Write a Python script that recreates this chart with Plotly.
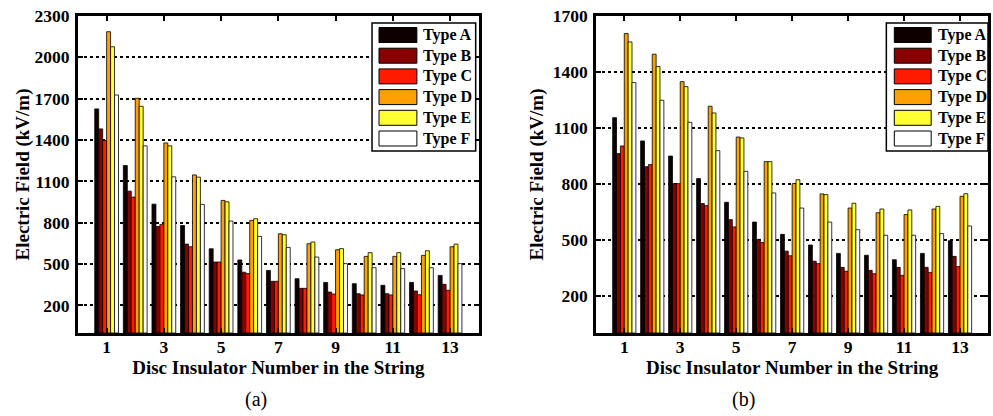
import plotly.graph_objects as go
from plotly.subplots import make_subplots

# ---------------- data ----------------
discs = list(range(1, 14))
series_names = ["Type A", "Type B", "Type C", "Type D", "Type E", "Type F"]
series_colors = ["#0f0000", "#880000", "#ff1a00", "#ffa000", "#ffff33", "#ffffff"]

# (a)
a_type_a = [1626, 1215, 935, 780, 611, 530, 454, 394, 367, 358, 346, 367, 418]
a_type_b = [1481, 1029, 773, 645, 515, 441, 375, 324, 297, 285, 285, 305, 353]
a_type_c = [1396, 986, 788, 626, 515, 431, 375, 324, 283, 276, 276, 278, 310]
a_type_d = [2186, 1703, 1379, 1147, 962, 817, 720, 648, 604, 556, 556, 563, 626]
a_type_e = [2077, 1645, 1358, 1131, 952, 829, 713, 660, 612, 583, 583, 597, 645]
a_type_f = [1727, 1358, 1133, 933, 812, 701, 621, 551, 503, 474, 467, 474, 503]

# (b)
b_type_a = [1155, 1030, 949, 828, 701, 595, 529, 472, 427, 417, 393, 427, 495]
b_type_b = [962, 892, 801, 694, 608, 502, 439, 385, 352, 336, 352, 352, 411]
b_type_c = [1003, 903, 801, 683, 569, 485, 414, 372, 331, 318, 309, 325, 356]
b_type_d = [1606, 1495, 1348, 1216, 1051, 919, 801, 746, 670, 645, 635, 665, 733]
b_type_e = [1561, 1429, 1321, 1180, 1046, 919, 822, 742, 696, 665, 660, 679, 747]
b_type_f = [1343, 1248, 1130, 978, 867, 751, 670, 595, 554, 524, 524, 533, 574]

a_series = [a_type_a, a_type_b, a_type_c, a_type_d, a_type_e, a_type_f]
b_series = [b_type_a, b_type_b, b_type_c, b_type_d, b_type_e, b_type_f]

x_ticks = [1, 3, 5, 7, 9, 11, 13]
a_yticks = [200, 500, 800, 1100, 1400, 1700, 2000, 2300]
b_yticks = [200, 500, 800, 1100, 1400, 1700]
captions = ["(a)", "(b)"]
x_title = "Disc Insulator Number in the String"
y_title = "Electric Field (kV/m)"

# ---------------- layout helpers ----------------
W, H = 993, 416
ML, MR, MT, MB = 77, 2, 16, 83
PW = W - ML - MR
PH = H - MT - MB


def px_x(px):
    return (px - ML) / PW


def px_y(py):
    return (H - MB - py) / PH


FONT = "Liberation Serif"

fig = make_subplots(rows=1, cols=2, horizontal_spacing=0.1)

for col, data in ((1, a_series), (2, b_series)):
    for name, color, vals in zip(series_names, series_colors, data):
        fig.add_trace(
            go.Bar(
                x=discs,
                y=vals,
                name=name,
                marker=dict(color=color, line=dict(color="#000000", width=0.8)),
                showlegend=False,
            ),
            row=1,
            col=col,
        )

fig.update_layout(
    width=W,
    height=H,
    margin=dict(l=ML, r=MR, t=MT, b=MB),
    paper_bgcolor="white",
    plot_bgcolor="white",
    barmode="group",
    bargap=0.17,
    bargroupgap=0,
    font=dict(family=FONT, size=16, color="black"),
)

axis_common = dict(
    showline=True,
    linecolor="black",
    linewidth=3,
    mirror="ticks",
    ticks="inside",
    ticklen=5,
    tickwidth=2,
    tickcolor="black",
    tickfont=dict(family=FONT, size=17.5, color="black", weight="bold"),
    zeroline=False,
)

fig.update_xaxes(
    **axis_common,
    range=[0, 14],
    tickvals=x_ticks,
    showgrid=False,
    ticklabelstandoff=-4,
    title=dict(text=x_title, font=dict(family=FONT, size=19, weight="bold"), standoff=0),
)
fig.update_xaxes(domain=[px_x(78), px_x(480)], row=1, col=1)
fig.update_xaxes(domain=[px_x(598), px_x(991)], row=1, col=2)

fig.update_yaxes(
    **axis_common,
    showgrid=True,
    gridcolor="black",
    gridwidth=1.5,
    griddash="dot",
    ticklabelstandoff=2,
)
fig.update_yaxes(
    range=[0, 2300], tickvals=a_yticks, row=1, col=1,
    title=dict(text=y_title, font=dict(family=FONT, size=19, weight="bold"), standoff=0),
)
fig.update_yaxes(
    range=[0, 1700], tickvals=b_yticks, row=1, col=2,
    title=dict(text=y_title, font=dict(family=FONT, size=19, weight="bold"), standoff=5),
)

# ---------------- custom legends (large swatches) ----------------
shapes = []
annotations = []
legend_boxes = [(373, 477, 380, 418, 422), (889, 991, 897, 934, 939)]
row_centers = [35, 55.7, 76.4, 97.1, 117.8, 138.5]
for (bx0, bx1, sx0, sx1, tx) in legend_boxes:
    shapes.append(dict(type="rect", xref="paper", yref="paper",
                       x0=px_x(bx0), x1=px_x(bx1), y0=px_y(151), y1=px_y(23),
                       fillcolor="white", line=dict(color="black", width=1.5), layer="above"))
    for name, color, cy in zip(series_names, series_colors, row_centers):
        shapes.append(dict(type="rect", xref="paper", yref="paper",
                           x0=px_x(sx0), x1=px_x(sx1), y0=px_y(cy + 7.5), y1=px_y(cy - 7.5),
                           fillcolor=color, line=dict(color="black", width=1), layer="above"))
        annotations.append(dict(text=name, xref="paper", yref="paper",
                                x=px_x(tx), y=px_y(cy), xanchor="left", yanchor="middle",
                                showarrow=False,
                                font=dict(family=FONT, size=16, color="black", weight="bold")))

for cap, cx in zip(captions, (257, 746)):
    annotations.append(dict(text=cap, xref="paper", yref="paper",
                            x=px_x(cx), y=px_y(399), xanchor="center", yanchor="middle",
                            showarrow=False, font=dict(family=FONT, size=20, color="black")))

fig.update_layout(shapes=shapes, annotations=annotations)

fig.write_html("out.html", config={"displayModeBar": False},
               post_script="document.body.style.margin='0';")
